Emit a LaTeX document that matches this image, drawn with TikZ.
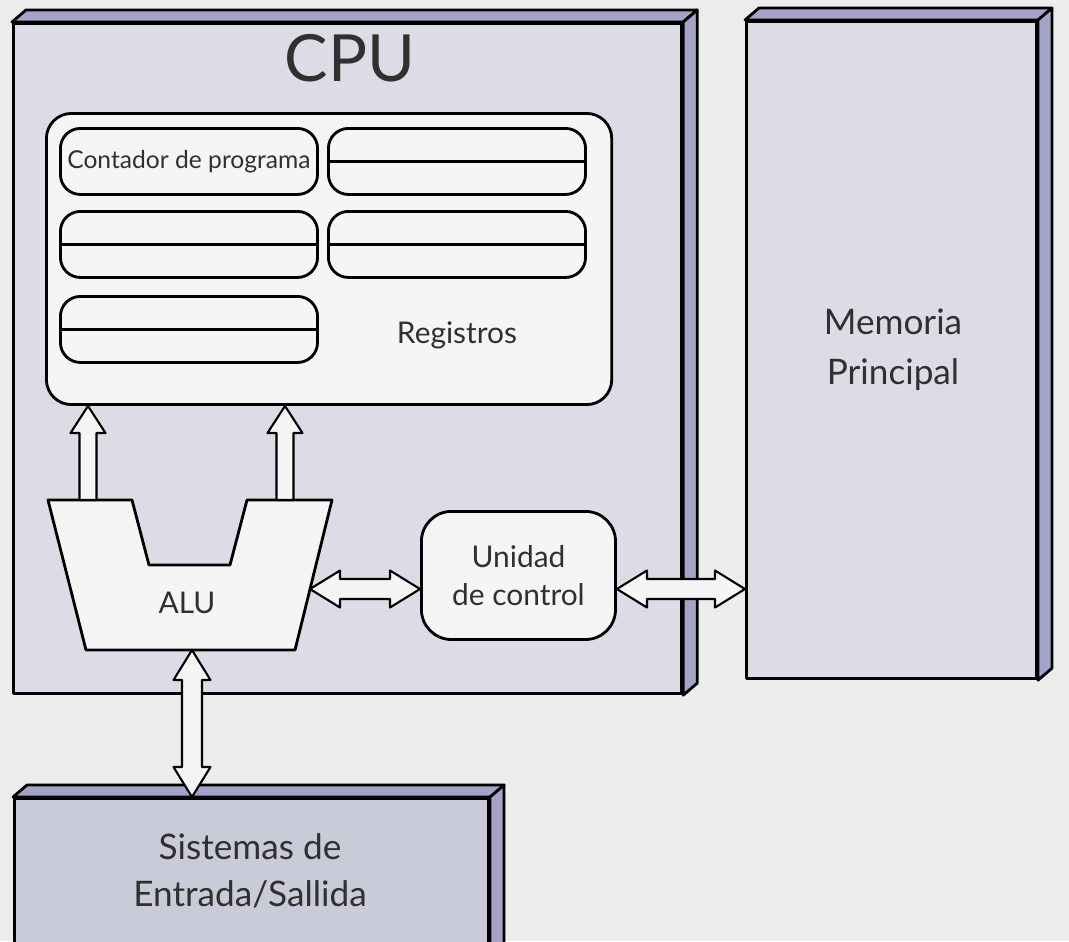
\documentclass[tikz,border=0pt]{standalone}
\usepackage{fontspec}
\setmainfont{Lato}
\usetikzlibrary{calc}

\definecolor{bgcol}{HTML}{ECECEC}
\definecolor{facecol}{HTML}{DCDCE6}
\definecolor{iocol}{HTML}{C9CBD9}
\definecolor{sidecol}{HTML}{A4A4C9}
\definecolor{boxcol}{HTML}{F5F5F5}
\definecolor{txtcol}{HTML}{303030}

% top and right faces of a block
\newcommand{\blockdepth}[1]{%
  \filldraw[side] (#1.north west) -- ++(14,-12) -- ([shift={(14,-12)}]#1.north east) -- (#1.north east) -- cycle;
  \filldraw[side] (#1.north east) -- ++(14,-12) -- ([shift={(14,-12)}]#1.south east) -- (#1.south east) -- cycle;}

% bus arrow, one head at #2
\newcommand{\busup}[2]{%
  \coordinate (hb) at ($(#2)!2.7mm!(#1)$);
  \filldraw[bus] ($(#1)!0.85mm!90:(#2)$) -- ($(hb)!0.85mm!-90:(#1)$) -- ($(hb)!1.75mm!-90:(#1)$) -- (#2)
    -- ($(hb)!1.75mm!90:(#1)$) -- ($(hb)!0.85mm!90:(#1)$) -- ($(#1)!0.85mm!-90:(#2)$) -- cycle;}

% bus arrow, heads at both ends
\newcommand{\busboth}[2]{%
  \coordinate (ha) at ($(#1)!3mm!(#2)$);
  \coordinate (hb) at ($(#2)!3mm!(#1)$);
  \filldraw[bus] (#1) -- ($(ha)!1.85mm!90:(#2)$) -- ($(ha)!1mm!90:(#2)$) -- ($(hb)!1mm!-90:(#1)$)
    -- ($(hb)!1.85mm!-90:(#1)$) -- (#2) -- ($(hb)!1.85mm!90:(#1)$) -- ($(hb)!1mm!90:(#1)$)
    -- ($(ha)!1mm!-90:(#2)$) -- ($(ha)!1.85mm!-90:(#2)$) -- cycle;}

\begin{document}
\begin{tikzpicture}[x=0.01cm, y=-0.01cm, line join=round]
\tikzstyle{face} = [draw=black, line width=0.8pt, fill=facecol, anchor=north west, inner sep=0pt]
\tikzstyle{side} = [draw=black, line width=0.8pt, fill=sidecol]
\tikzstyle{panel} = [draw=black, line width=0.8pt, fill=boxcol, rounded corners=2mm, anchor=north west, inner sep=0pt]
\tikzstyle{reg} = [panel, minimum width=2.57cm, minimum height=0.66cm, text=txtcol, font=\fontsize{7}{8}\selectfont]
\tikzstyle{bus} = [draw=black, line width=0.6pt, fill=boxcol]
\tikzstyle{txt} = [text=txtcol, align=center]

\useasboundingbox (0,0) rectangle (1069,941);
\fill[bgcol] (0,0) rectangle (1069,941);

% blocks
\node[face, minimum width=6.68cm, minimum height=6.70cm] (cpu) at (12,22) {};
\node[face, minimum width=2.90cm, minimum height=6.57cm] (mem) at (745,20) {};
\node[face, fill=iocol, minimum width=4.74cm, minimum height=1.6cm] (io) at (13,797) {};
\blockdepth{cpu}
\blockdepth{mem}
\blockdepth{io}

\node[txt, font=\fontsize{18.5}{20}\selectfont] (cputxt) at (350,58) {CPU};
\node[txt, font=\fontsize{10}{14.2}\selectfont] (memtxt) at (893,350) {Memoria\\Principal};
\node[txt, font=\fontsize{10}{13.4}\selectfont] (iotxt) at (250,871) {Sistemas de\\Entrada/Sallida};

% registros
\node[panel, rounded corners=2.5mm, minimum width=5.65cm, minimum height=2.91cm] (regs) at (45,112) {};
\node[reg] (pc) at (59,127) {Contador de programa};
\node[reg] (r1) at (327,127) {};
\node[reg] (r2) at (59,210) {};
\node[reg] (r3) at (327,210) {};
\node[reg] (r4) at (59,295) {};
\foreach \r in {r1,r2,r3,r4}
  \draw[line width=0.8pt] (\r.west) -- (\r.east);
\node[txt, font=\fontsize{8.5}{10}\selectfont] (regtxt) at (457,335) {Registros};

% ALU
\draw[line width=0.8pt, fill=boxcol] (48,500) -- (132,500) -- (149,565) -- (230,565) -- (247,500)
  -- (332,500) -- (295,650) -- (86,650) -- cycle;
\node[txt, font=\fontsize{8.5}{10}\selectfont] (alu) at (187,603) {ALU};

% unidad de control
\node[panel, rounded corners=3mm, minimum width=1.94cm, minimum height=1.28cm, txt,
  font=\fontsize{8.5}{10.8}\selectfont] (uc) at (420,510) {Unidad\\de control};

% buses
\coordinate (upA) at (88,500);
\coordinate (upB) at (285,500);
\coordinate (regA) at (upA |- regs.south);
\coordinate (regB) at (upB |- regs.south);
\coordinate (aluR) at (310,589);
\coordinate (ucL) at (uc.west |- aluR);
\coordinate (ucR) at (uc.east |- aluR);
\coordinate (memL) at (mem.west |- aluR);
\coordinate (aluB) at (192,650);
\coordinate (ioT) at (aluB |- io.north);

\busup{upA}{regA}
\busup{upB}{regB}
\busboth{aluR}{ucL}
\busboth{ucR}{memL}
\busboth{aluB}{ioT}

\end{tikzpicture}
\end{document}
